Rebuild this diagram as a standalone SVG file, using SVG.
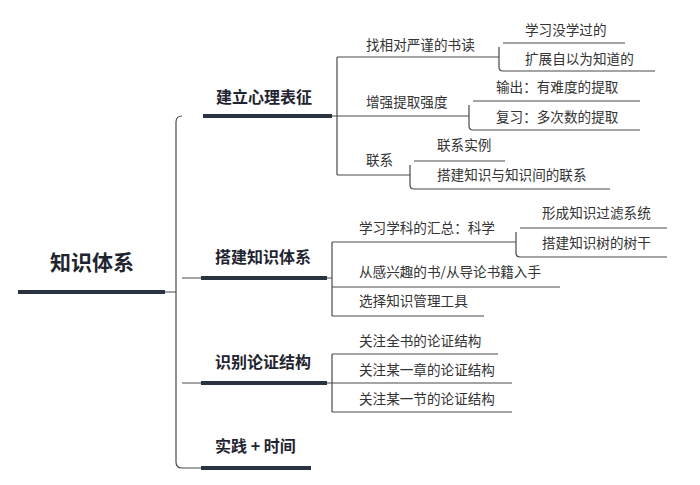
<svg xmlns="http://www.w3.org/2000/svg" width="700" height="485" viewBox="0 0 700 485">
<style>
text{font-family:"Noto Sans CJK SC","Noto Sans",sans-serif;fill:#333}
.s{font-size:13.6px}
.m{font-size:16px;font-weight:bold;fill:#1f2530}
.r{font-size:21px;font-weight:bold;fill:#1f2530}
.t{fill:none;stroke:#4a4a4a;stroke-width:1.2}
.k{fill:none;stroke:#2b3340;stroke-width:4}
</style>
<rect width="700" height="485" fill="#fff"/>
<g id="connectors">
<path class="t" d="M165 292H176M182 116Q176 116 176 122V462Q176 468 182 468H201"/>
<path class="t" d="M182 278H201M182 383H201"/>
<path class="t" d="M332 116H337M337 57V175M337 57H499M337 116H469M337 175H410"/>
<path class="t" d="M503 43H625M499 47V67Q499 71 503 71H655"/>
<path class="t" d="M473 101H640M469 105V126Q469 130 473 130H640"/>
<path class="t" d="M414 161H505M410 165V185Q410 189 414 189H610"/>
<path class="t" d="M327 278H332M332 242V316M332 242H516M332 287H560M332 316H484"/>
<path class="t" d="M520 228H667M516 232V253Q516 257 520 257H667"/>
<path class="t" d="M327 383H332M332 354V412M332 354H498M332 383H512M332 412H512"/>
</g>
<g id="root"><line class="k" x1="18" y1="292" x2="165" y2="292"/><text class="r" x="50" y="270">知识体系</text></g>
<g id="b1"><line class="k" x1="203" y1="116" x2="332" y2="116"/><text class="m" x="216" y="103">建立心理表征</text></g>
<g id="b2"><line class="k" x1="201" y1="278" x2="327" y2="278"/><text class="m" x="215" y="263">搭建知识体系</text></g>
<g id="b3"><line class="k" x1="201" y1="383" x2="327" y2="383"/><text class="m" x="215" y="368">识别论证结构</text></g>
<g id="b4"><line class="k" x1="201" y1="468" x2="311" y2="468"/><text class="m" x="215" y="452">实践 + 时间</text></g>
<g id="n1"><text class="s" x="366" y="50">找相对严谨的书读</text></g>
<g id="n1a"><text class="s" x="525" y="35">学习没学过的</text></g>
<g id="n1b"><text class="s" x="525" y="64">扩展自以为知道的</text></g>
<g id="n2"><text class="s" x="366" y="107">增强提取强度</text></g>
<g id="n2a"><text class="s" x="496" y="92">输出：有难度的提取</text></g>
<g id="n2b"><text class="s" x="496" y="122">复习：多次数的提取</text></g>
<g id="n3"><text class="s" x="366" y="165">联系</text></g>
<g id="n3a"><text class="s" x="437" y="150">联系实例</text></g>
<g id="n3b"><text class="s" x="437" y="180">搭建知识与知识间的联系</text></g>
<g id="n4"><text class="s" x="359" y="233">学习学科的汇总：科学</text></g>
<g id="n4a"><text class="s" x="542" y="218">形成知识过滤系统</text></g>
<g id="n4b"><text class="s" x="542" y="248">搭建知识树的树干</text></g>
<g id="n5"><text class="s" x="359" y="277">从感兴趣的书/从导论书籍入手</text></g>
<g id="n6"><text class="s" x="359" y="306">选择知识管理工具</text></g>
<g id="n7"><text class="s" x="359" y="346">关注全书的论证结构</text></g>
<g id="n8"><text class="s" x="359" y="375">关注某一章的论证结构</text></g>
<g id="n9"><text class="s" x="359" y="404">关注某一节的论证结构</text></g>
</svg>
